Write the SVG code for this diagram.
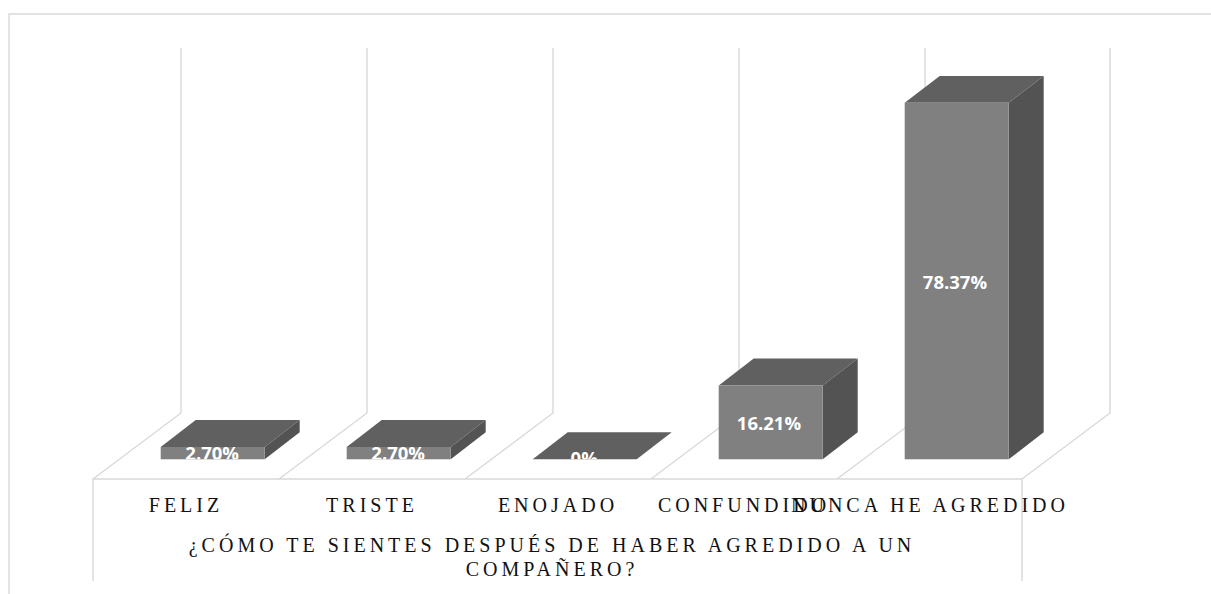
<svg xmlns="http://www.w3.org/2000/svg" width="1211" height="594" viewBox="0 0 1211 594">
<defs>
<style>
.grid{stroke:#d9d9d9;stroke-width:1.4;fill:none}
.front{fill:#808080}
.top{fill:#606060}
.side{fill:#535353}
.val{font-family:"Open Sans","Liberation Sans",sans-serif;font-weight:bold;font-size:18.5px;fill:#ffffff;text-anchor:middle}
.cat{font-family:"Liberation Serif","DejaVu Serif",serif;font-size:20px;fill:#111111;letter-spacing:4px;text-anchor:middle}
</style>
<clipPath id="floorclip"><rect x="0" y="0" width="1211" height="459.3"/></clipPath>
</defs>
<rect width="1211" height="594" fill="#ffffff"/>
<g id="frame" class="grid">
<path d="M1211 14 H9 V594"/>
</g>
<g id="gridlines" class="grid">
<path d="M181 48 V413 L93 479"/>
<path d="M367 48 V413 L279 479"/>
<path d="M553 48 V413 L465 479"/>
<path d="M739 48 V413 L651 479"/>
<path d="M925 48 V413 L837 479"/>
<path d="M1110 48 V413 L1022 479"/>
<path d="M93 581 V479 H1022 V581"/>
</g>
<g id="connectors"></g>
<g id="bar-feliz">
<polygon class="top" points="160.7,447 195.7,420 299.7,420 264.7,447"/>
<polygon class="side" points="264.7,447 299.7,420 299.7,432.3 264.7,459.3"/>
<rect class="front" x="160.7" y="447" width="104" height="12.3"/>
<text class="val" x="212.2" y="459.5" clip-path="url(#floorclip)">2.70%</text>
</g>
<g id="bar-triste">
<polygon class="top" points="346.7,447 381.7,420 485.7,420 450.7,447"/>
<polygon class="side" points="450.7,447 485.7,420 485.7,432.3 450.7,459.3"/>
<rect class="front" x="346.7" y="447" width="104" height="12.3"/>
<text class="val" x="398.2" y="459.5" clip-path="url(#floorclip)">2.70%</text>
</g>
<g id="bar-enojado">
<polygon class="top" points="532.7,459.3 567.7,432.3 671.7,432.3 636.7,459.3"/>
<text class="val" x="584.2" y="465" clip-path="url(#floorclip)">0%</text>
</g>
<g id="bar-confundido">
<polygon class="top" points="718.7,385.5 753.7,358.5 857.7,358.5 822.7,385.5"/>
<polygon class="side" points="822.7,385.5 857.7,358.5 857.7,432.3 822.7,459.3"/>
<rect class="front" x="718.7" y="385.5" width="104" height="73.8"/>
<text class="val" x="769" y="429.5">16.21%</text>
</g>
<g id="bar-nunca">
<polygon class="top" points="904.7,102.7 939.7,76 1043.7,76 1008.7,102.7"/>
<polygon class="side" points="1008.7,102.7 1043.7,76 1043.7,432.3 1008.7,459.3"/>
<rect class="front" x="904.7" y="102.7" width="104" height="356.6"/>
<text class="val" x="955" y="288.5">78.37%</text>
</g>
<g id="category-labels">
<text class="cat" x="186" y="512">FELIZ</text>
<text class="cat" x="372" y="512">TRISTE</text>
<text class="cat" x="558" y="512">ENOJADO</text>
<text class="cat" x="744" y="512">CONFUNDIDO</text>
<text class="cat" x="930" y="512">NUNCA HE AGREDIDO</text>
</g>
<g id="axis-title">
<text class="cat" x="552" y="552">¿CÓMO TE SIENTES DESPUÉS DE HABER AGREDIDO A UN</text>
<text class="cat" x="552" y="576">COMPAÑERO?</text>
</g>
</svg>
